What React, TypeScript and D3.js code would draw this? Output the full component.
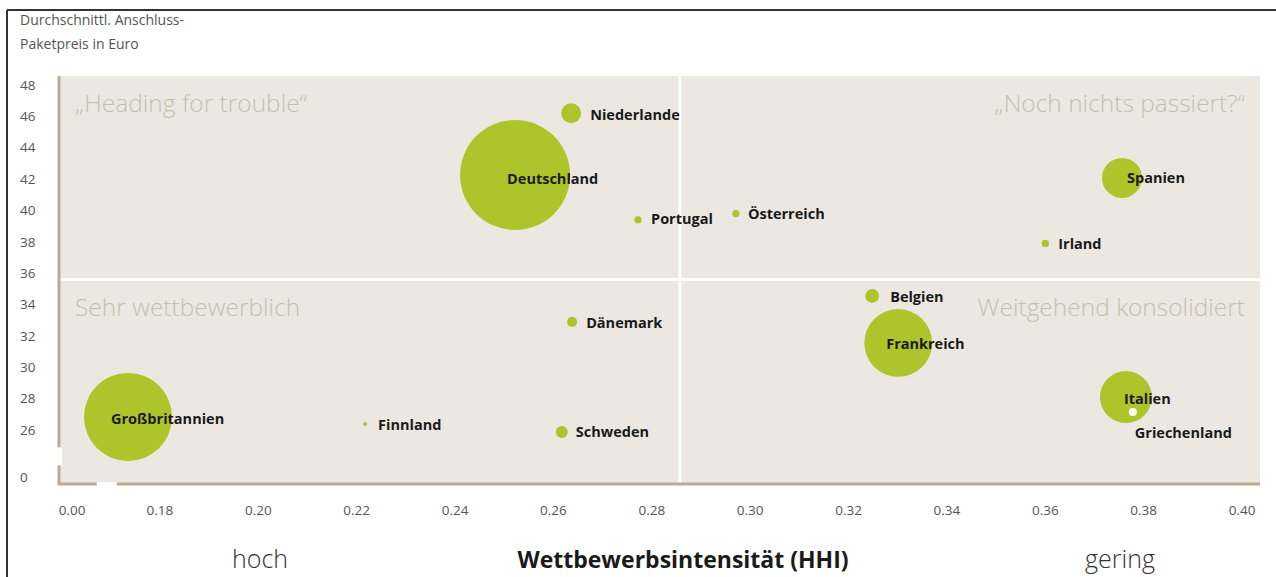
import React from "react";
import * as d3 from "d3";

const countries = ["Niederlande", "Deutschland", "Portugal", "Österreich", "Spanien", "Irland", "Belgien", "Frankreich", "Dänemark", "Italien", "Griechenland", "Großbritannien", "Finnland", "Schweden"];
const hhi = [0.2636, 0.2522, 0.2772, 0.2971, 0.3756, 0.36, 0.3248, 0.3301, 0.2638, 0.3764, 0.3778, 0.1735, 0.2217, 0.2617];
const price = [46.2, 42.26, 39.4, 39.8, 42.07, 37.9, 34.55, 31.55, 32.9, 28.1, 27.15, 26.83, 26.38, 25.87];
const marketSize = [3.3, 100, 0.45, 0.45, 13.2, 0.45, 1.6, 38, 0.85, 22.3, 0.55, 64, 0.14, 1.2];
const highlight = [true, true, true, true, true, true, true, true, true, true, false, true, true, true];
// label offsets (dx, dy) relative to bubble centre
const labelDx = [19, -8, 13, 12, 5, 13, 18, -12, 14, -2, 2, -17, 13, 14];
const labelDy = [2, 4, -1, 0, 0, 1, 1, 1, 1, 2, 21, 2, 1, 0];

const xTicks = [0, 0.18, 0.2, 0.22, 0.24, 0.26, 0.28, 0.3, 0.32, 0.34, 0.36, 0.38, 0.4];
const yTicks = [0, 26, 28, 30, 32, 34, 36, 38, 40, 42, 44, 46, 48];
const xDivider = 0.2857;
const yDivider = 35.6;

const quadrantTitles = ["„Heading for trouble“", "„Noch nichts passiert?“", "Sehr wettbewerblich", "Weitgehend konsolidiert"];
const yTitle = ["Durchschnittl. Anschluss-", "Paketpreis in Euro"];
const xTitle = "Wettbewerbsintensität (HHI)";
const xLow = "hoch";
const xHigh = "gering";

const W = 1276, H = 577;
const plot = { left: 60, right: 1260, top: 76, bottom: 485 };

const FONT = "'Open Sans', 'DejaVu Sans', sans-serif";
const BG = "#ece8e1";
const AXIS = "#b8ad94";
const GREEN = "#adc52a";
const QUAD = "#c7bead";

export default function App() {
  const x = d3.scaleLinear().domain([0, 0.17, 0.4]).range([72, 110.8, 1242]);
  const y = d3.scaleLinear().domain([0, 24, 48]).range([477, 461.36, 85]);
  const r = d3.scaleSqrt().domain([0, 100]).range([0, 55]);
  const fmtX = d3.format(".2f");

  const order = d3.range(countries.length).sort((a, b) => marketSize[b] - marketSize[a]);

  return (
    <svg width={W} height={H} style={{ position: "absolute", left: 0, top: 0, background: "#fff" }} fontFamily={FONT}>
      {/* frame */}
      <line x1={7} x2={W} y1={10} y2={10} stroke="#333" strokeWidth={2} />
      <line x1={7} x2={7} y1={10} y2={H} stroke="#333" strokeWidth={2} />

      {/* y title */}
      {yTitle.map((t, i) => (
        <text key={t} x={20} y={25 + i * 24} fontSize={14} fill="#555">{t}</text>
      ))}

      {/* plot background */}
      <rect x={plot.left} y={plot.top} width={plot.right - plot.left} height={plot.bottom - plot.top} fill={BG} />
      {/* dividers */}
      <line x1={x(xDivider)} x2={x(xDivider)} y1={plot.top} y2={plot.bottom} stroke="#fff" strokeWidth={3} />
      <line x1={plot.left} x2={plot.right} y1={y(yDivider)} y2={y(yDivider)} stroke="#fff" strokeWidth={3} />

      {/* axes */}
      <line x1={plot.left - 1} x2={plot.left - 1} y1={plot.top} y2={plot.bottom} stroke={AXIS} strokeWidth={3} />
      <line x1={plot.left - 2} x2={plot.right} y1={plot.bottom - 1} y2={plot.bottom - 1} stroke={AXIS} strokeWidth={3} />
      {/* axis breaks */}
      <rect x={plot.left - 3} y={y(24) - 14} width={5} height={18} fill="#fff" />
      <rect x={x(0.17) - 14} y={plot.bottom - 3} width={20} height={5} fill="#fff" />

      {/* quadrant titles */}
      <text x={75} y={112} fontSize={24.5} fill={QUAD} fontWeight={300}>{quadrantTitles[0]}</text>
      <text x={1245} y={112} fontSize={24.5} fill={QUAD} fontWeight={300} textAnchor="end">{quadrantTitles[1]}</text>
      <text x={75} y={316} fontSize={24.5} fill={QUAD} fontWeight={300}>{quadrantTitles[2]}</text>
      <text x={1245} y={316} fontSize={24.5} fill={QUAD} fontWeight={300} textAnchor="end">{quadrantTitles[3]}</text>

      {/* y ticks */}
      {yTicks.map((t) => (
        <text key={t} x={20} y={y(t)} dy="0.35em" fontSize={13.5} fill="#555">{t}</text>
      ))}
      {/* x ticks */}
      {xTicks.map((t) => (
        <text key={t} x={x(t)} y={510} dy="0.35em" fontSize={13.5} fill="#555" textAnchor="middle">{fmtX(t)}</text>
      ))}

      {/* bubbles */}
      {order.map((i) => (
        <circle key={countries[i]} cx={x(hhi[i])} cy={y(price[i])} r={r(marketSize[i])} fill={highlight[i] ? GREEN : "#fff"} />
      ))}
      {order.map((i) => (
        <text key={"l" + countries[i]} x={x(hhi[i]) + labelDx[i]} y={y(price[i]) + labelDy[i]} dy="0.35em" fontSize={14.5} fontWeight={700} fill="#1a1a1a">{countries[i]}</text>
      ))}

      {/* bottom labels */}
      <text x={260} y={568} fontSize={25} fill="#333" fontWeight={300} textAnchor="middle">{xLow}</text>
      <text x={683} y={568} fontSize={23} fill="#1a1a1a" fontWeight={700} textAnchor="middle">{xTitle}</text>
      <text x={1120} y={568} fontSize={25} fill="#333" fontWeight={300} textAnchor="middle">{xHigh}</text>
    </svg>
  );
}
